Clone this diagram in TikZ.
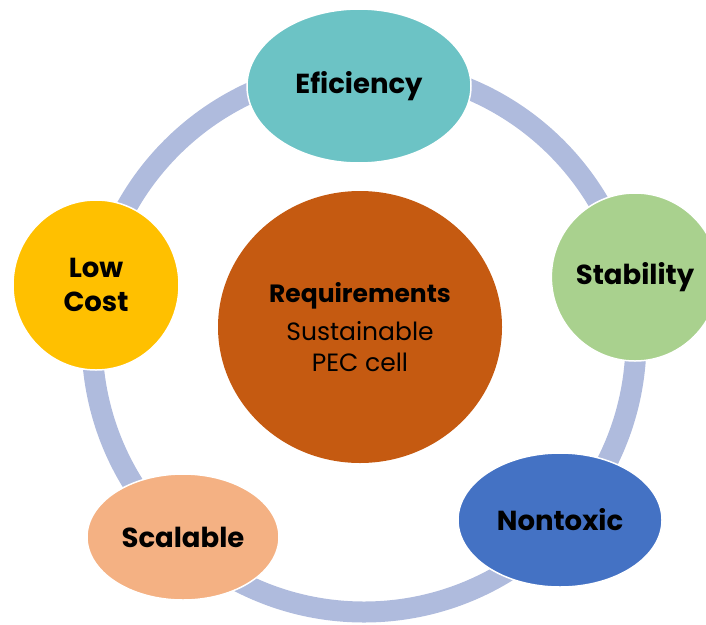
\documentclass[tikz,border=0pt]{standalone}
\usepackage{fontspec}
\setmainfont{Poppins}
\usetikzlibrary{shapes.geometric}
\definecolor{ringblue}{HTML}{AFBBDD}
\definecolor{reqorange}{HTML}{C55A11}
\definecolor{effteal}{HTML}{6CC3C5}
\definecolor{stabgreen}{HTML}{A9D18E}
\definecolor{toxblue}{HTML}{4472C4}
\definecolor{scalpeach}{HTML}{F4B183}
\definecolor{costgold}{HTML}{FFC000}
\begin{document}
\begin{tikzpicture}[x=1pt, y=-1pt, line join=round,
	blob/.style={ellipse, draw=white, line width=1.5pt, inner sep=0pt, align=center,
		font=\fontsize{27.5}{34}\selectfont\bfseries}]
	\clip (0,0) rectangle (706,624);
	% outer ring behind everything
	\draw[ringblue, line width=21pt] (364,340) circle[radius=272pt];
	% centre
	\node[ellipse, fill=reqorange, inner sep=0pt, minimum width=284pt, minimum height=272pt,
		align=center, font=\fontsize{25}{31}\selectfont] (req) at (360,327)
		{\textbf{Requirements}\\[7pt]Sustainable\\PEC cell};
	% requirements round the ring
	\node[blob, fill=effteal, minimum width=224pt, minimum height=154pt] (eff) at (359,86) {Eficiency};
	\node[blob, fill=stabgreen, minimum width=160pt, minimum height=168pt] (stab) at (635,277) {Stability};
	\node[blob, fill=toxblue, minimum width=204pt, minimum height=134pt] (tox) at (560,520) {Nontoxic};
	\node[blob, fill=scalpeach, minimum width=192pt, minimum height=126pt] (scal) at (183,537) {Scalable};
	\node[blob, fill=costgold, minimum width=166pt, minimum height=170pt] (cost) at (96,285) {Low\\Cost};
\end{tikzpicture}
\end{document}
